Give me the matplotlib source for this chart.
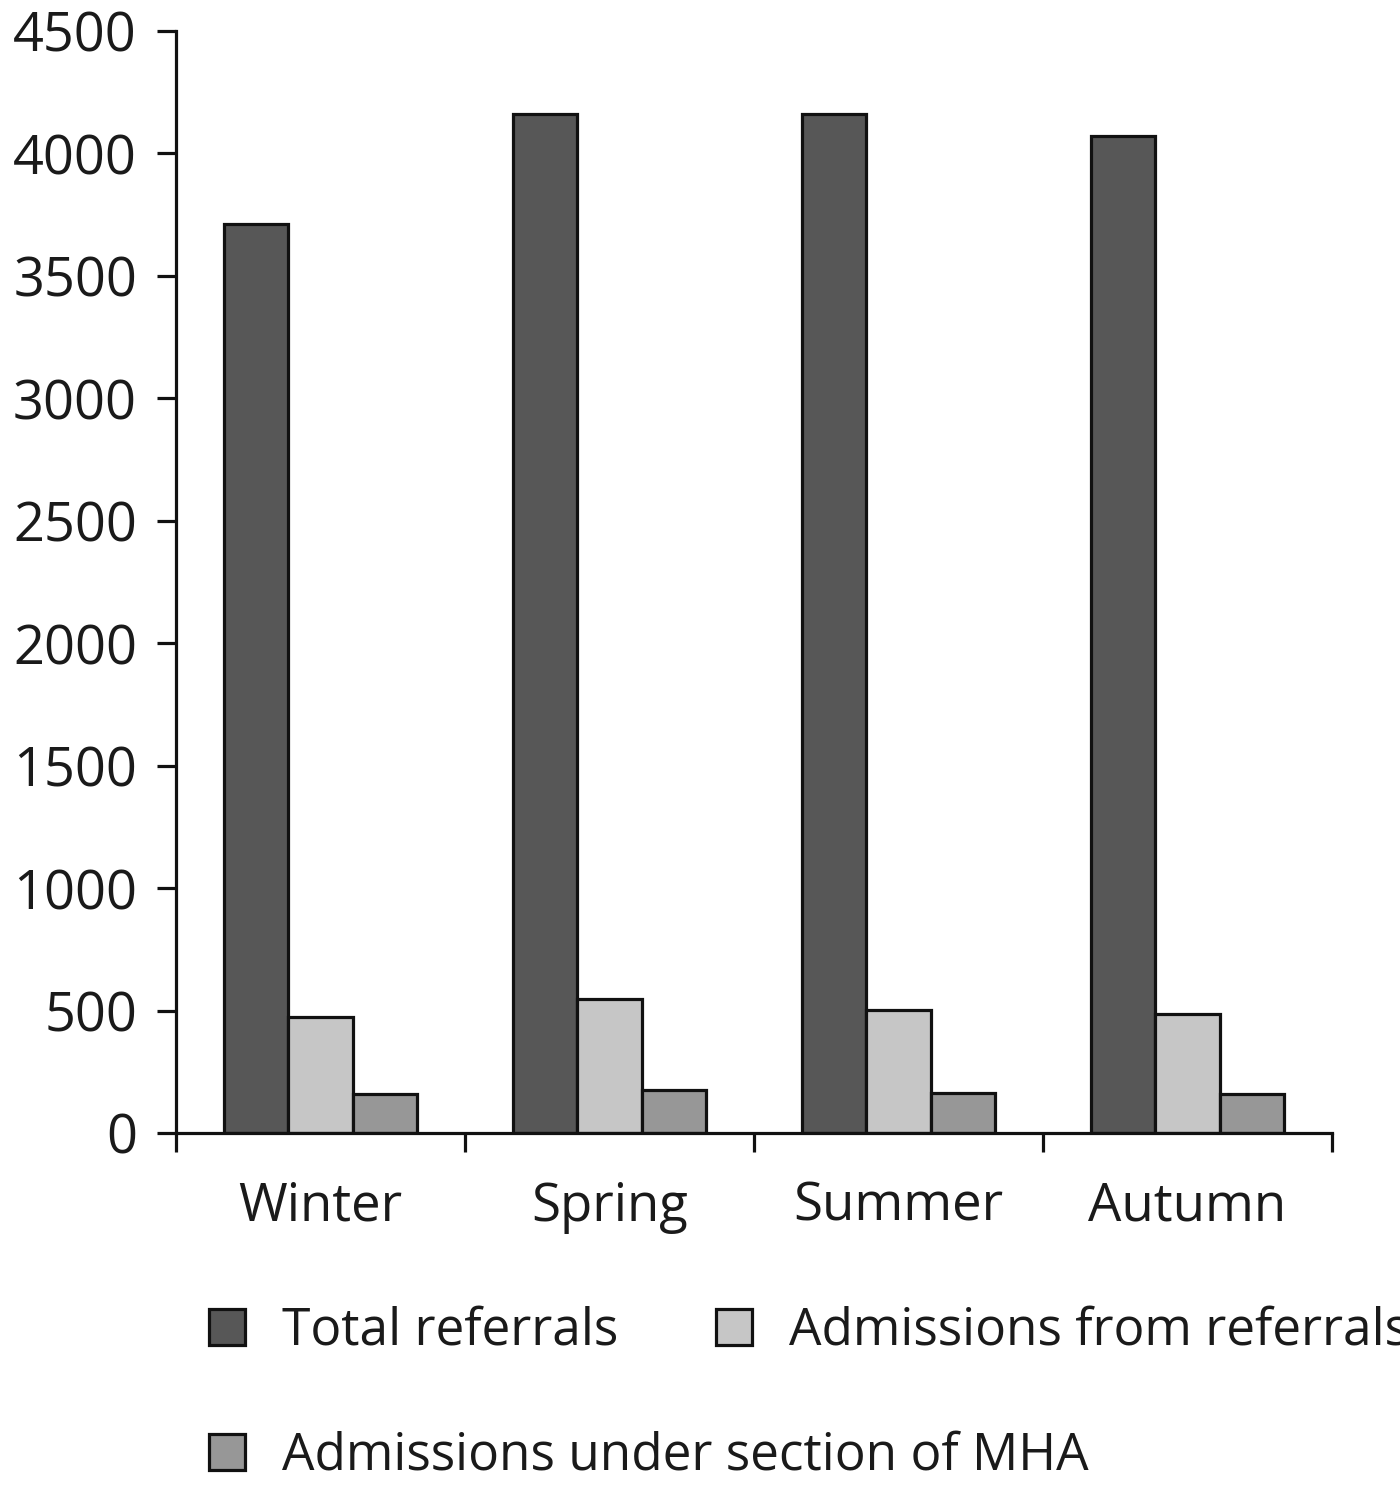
import matplotlib
matplotlib.use("Agg")
import matplotlib.pyplot as plt
import numpy as np
from matplotlib.patches import Patch

plt.rcParams['font.family'] = ['Open Sans', 'DejaVu Sans']

seasons = ["Winter", "Spring", "Summer", "Autumn"]
series_names = ["Total referrals", "Admissions from referrals", "Admissions under section of MHA"]
total_referrals = [3710, 4160, 4160, 4070]
admissions_from_referrals = [474, 547, 502, 486]
admissions_mha = [159, 176, 163, 159]
colors = ["#575757", "#c6c6c6", "#979797"]
yticks = [0, 500, 1000, 1500, 2000, 2500, 3000, 3500, 4000, 4500]

W, H = 1400, 1489
fig = plt.figure(figsize=(W/100, H/100), dpi=100)
ax = fig.add_axes([176/W, 1-1133/H, (1332-176)/W, (1133-31)/H])

x = np.arange(len(seasons))
bw = 0.222
for i, (vals, c) in enumerate(zip([total_referrals, admissions_from_referrals, admissions_mha], colors)):
    ax.bar(x + (i-1)*bw, vals, width=bw, color=c, edgecolor="#111111", linewidth=2.3, zorder=2)

TXT = "#1a1a1a"
ax.set_xlim(-0.5, len(seasons)-0.5)
ax.set_ylim(0, 4500)
ax.set_yticks(yticks)
ax.set_yticklabels([str(v) for v in yticks], fontsize=39, color=TXT)
ax.set_xticks(np.arange(-0.5, len(seasons)), minor=False)
ax.set_xticklabels([])
ax.set_xticks(x, minor=True)
ax.set_xticklabels(seasons, minor=True, fontsize=38, color=TXT)
ax.tick_params(axis='x', which='major', length=14, width=2.3, direction='out', color="#111111")
ax.tick_params(axis='x', which='minor', length=0, pad=34)
ax.tick_params(axis='y', length=14, width=2.3, direction='out', color="#111111", pad=14)
for s in ['top', 'right']:
    ax.spines[s].set_visible(False)
for s in ['left', 'bottom']:
    ax.spines[s].set_linewidth(2.3)
    ax.spines[s].set_color("#111111")

# Legend entries (manual layout)
positions = [(209/W, 1-1331/H), (716/W, 1-1331/H), (209/W, 1-1456/H)]
for name, c, pos in zip(series_names, colors, positions):
    h = Patch(facecolor=c, edgecolor="#111111", linewidth=2.3)
    fig.legend([h], [name], loc='center left', bbox_to_anchor=pos, frameon=False,
               fontsize=37, handlelength=0.7, handleheight=0.7, handletextpad=0.73,
               borderpad=0, borderaxespad=0, labelcolor=TXT)

fig.savefig("out.png", dpi=100, facecolor="white")
